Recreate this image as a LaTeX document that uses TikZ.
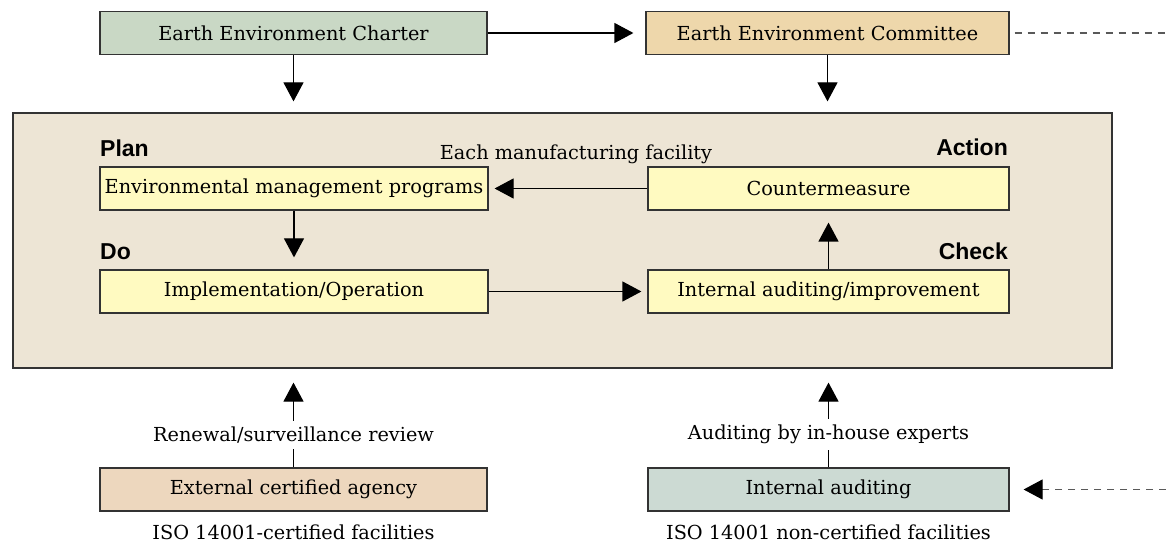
\documentclass[tikz,border=0pt]{standalone}
\usepackage{fontspec}
\setmainfont{DejaVu Serif}
\newfontfamily\pdcafont{Liberation Sans}
\usepackage{tikz}
\usetikzlibrary{arrows.meta}

\definecolor{edgegray}{HTML}{333333}
\definecolor{charterfill}{HTML}{C9D8C5}
\definecolor{committeefill}{HTML}{EED7AB}
\definecolor{sitefill}{HTML}{EDE5D5}
\definecolor{stepfill}{HTML}{FFFAC1}
\definecolor{agencyfill}{HTML}{EDD7BE}
\definecolor{inhousefill}{HTML}{CCDAD3}

\begin{document}
\begin{tikzpicture}[x=1pt, y=-1pt,
    every node/.style={font=\fontsize{19.3}{23}\selectfont},
    box/.style={draw=edgegray, line width=1.2pt, minimum height=43pt, inner sep=0pt},
    phase/.style={font=\pdcafont\bfseries\fontsize{23}{27}\selectfont, inner sep=0pt},
    link/.style={line width=1.2pt, -{Triangle[length=19pt,width=20pt]}},
    dashlink/.style={line width=1.2pt, color=black!65, dash pattern=on 7pt off 6pt}
]
\useasboundingbox (0,0) rectangle (1166,545);
\begin{scope}
    % top row
    \node[box, fill=charterfill, minimum width=387pt] (charter) at (293.5,33) {Earth Environment Charter};
    \node[box, fill=committeefill, minimum width=363pt] (committee) at (827.5,33) {Earth Environment Committee};
    \coordinate (rimtop) at (1166,33);

    % manufacturing facility frame
    \node[draw=edgegray, line width=1.2pt, fill=sitefill, minimum width=1099pt, minimum height=255pt] (site) at (562.5,240.5) {};
    \node[phase, anchor=base west] (plan) at (100,157) {Plan};
    \node[anchor=base, inner sep=0pt] (each) at (576,160) {Each manufacturing facility};
    \node[phase, anchor=base east] (action) at (1008,156) {Action};
    \node[box, fill=stepfill, minimum width=388pt] (progs) at (294,188.5) {Environmental management programs};
    \node[box, fill=stepfill, minimum width=361pt] (counter) at (828.5,188.5) {Countermeasure};
    \node[phase, anchor=base west] (do) at (100,259) {Do};
    \node[phase, anchor=base east] (check) at (1008,259) {Check};
    \node[box, fill=stepfill, minimum width=388pt] (impl) at (294,291.5) {Implementation/Operation};
    \node[box, fill=stepfill, minimum width=361pt] (audit) at (828.5,291.5) {Internal auditing/improvement};

    % bottom row
    \node[box, fill=agencyfill, minimum width=387pt] (agency) at (293.5,489.5) {External certified agency};
    \node[box, fill=inhousefill, minimum width=361pt] (inaudit) at (828.5,489.5) {Internal auditing};
    \node[anchor=base] (certified) at (293.5,539) {ISO 14001-certified facilities};
    \node[anchor=base] (noncert) at (828.5,539) {ISO 14001 non-certified facilities};
    \coordinate (rimbot) at (1166,489.5);

    \path [link] (charter) edge[shorten >=11pt] (charter |- site.north);
    \path [link] (charter) edge[shorten >=12pt] (committee);
    \path [link] (committee) edge[shorten >=11pt] (committee |- site.north);
    \path [dashlink] (committee) edge[shorten <=5pt] (rimtop);

    \path [link] (counter) edge[shorten >=6pt] (progs);
    \path [link] (progs) edge[shorten >=12pt] (impl);
    \path [link] (impl) edge[shorten >=6pt] (audit);
    \path [link] (audit) edge[shorten >=12pt] (counter);

    \path [link] (agency) edge[shorten >=14pt] node[pos=.33, fill=white, inner sep=6pt] {Renewal/surveillance review} (agency |- site.south);
    \path [link] (inaudit) edge[shorten >=14pt] node[pos=.33, fill=white, inner sep=6pt] {Auditing by in-house experts} (inaudit |- site.south);
    \path [dashlink, -{Triangle[length=19pt,width=20pt,color=black,fill=black]}] (rimbot) edge[shorten >=14pt] (inaudit);
\end{scope}
\end{tikzpicture}
\end{document}
